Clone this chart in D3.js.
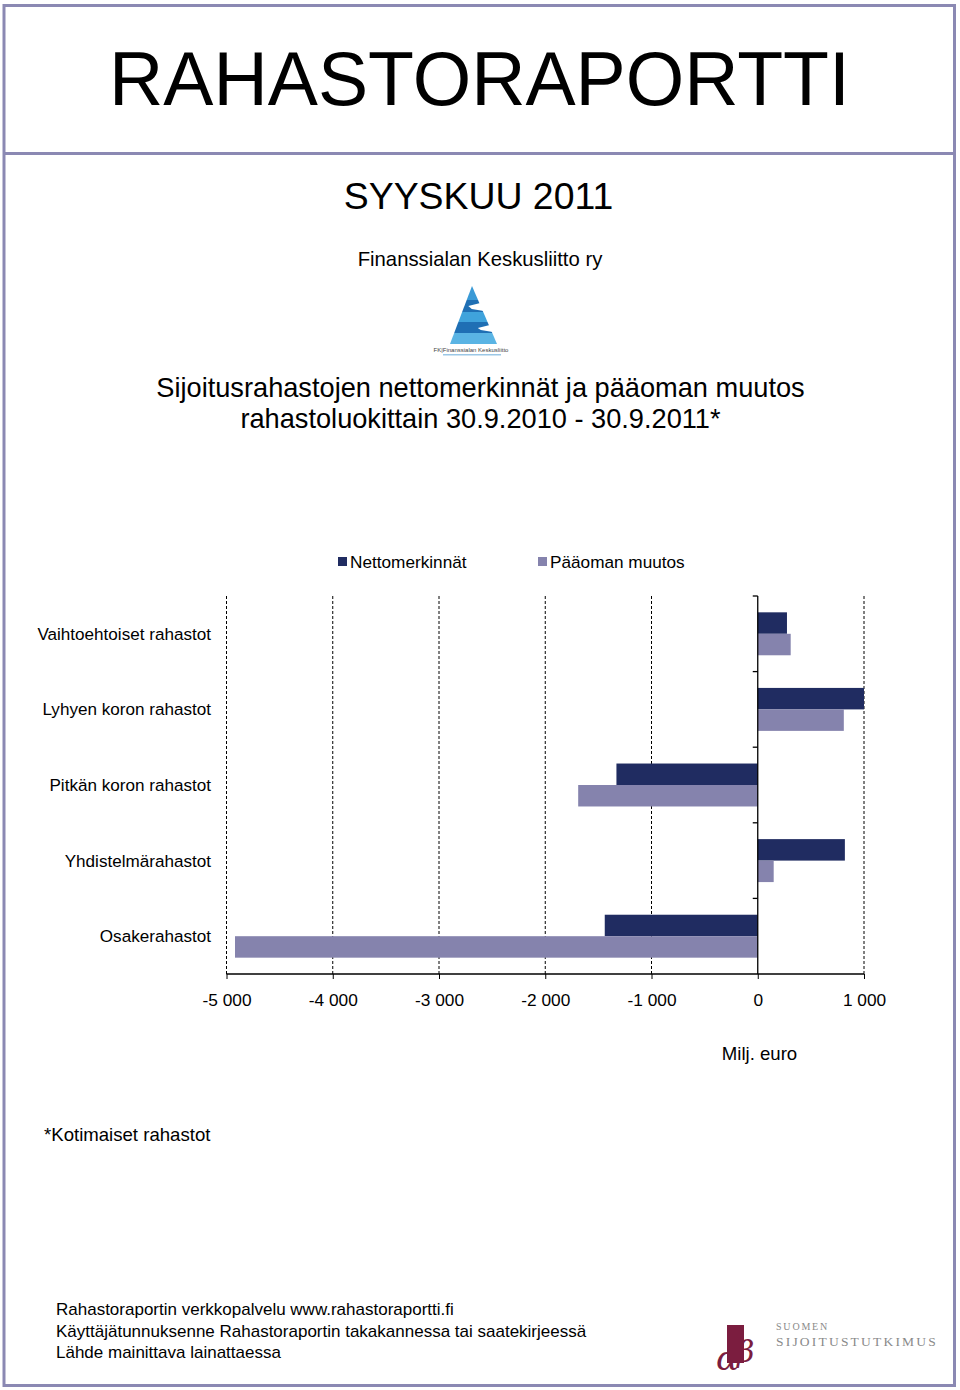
<!DOCTYPE html>
<html><head><meta charset="utf-8">
<script src="https://cdn.jsdelivr.net/npm/d3@7"></script>
<style>
html,body{margin:0;padding:0;background:#fff;}
svg{display:block;font-family:"Liberation Sans",Arial,sans-serif;}
</style></head>
<body>
<svg id="c" width="960" height="1390"></svg>
<script>
const categories = ["Vaihtoehtoiset rahastot","Lyhyen koron rahastot","Pitkän koron rahastot","Yhdistelmärahastot","Osakerahastot"];
const seriesNames = ["Nettomerkinnät","Pääoman muutos"];
const nettomerkinnat = [275, 1000, -1330, 820, -1440];
const paaomanMuutos = [310, 810, -1690, 150, -4920];
const xTicks = [-5000,-4000,-3000,-2000,-1000,0,1000];
const colors = ["#202c61","#8583ad"];
const borderColor = "#8b89b3";

const svg = d3.select("#c");

// frame
svg.append("rect").attr("x",4).attr("y",5.5).attr("width",950.5).attr("height",1380)
  .attr("fill","none").attr("stroke",borderColor).attr("stroke-width",3);
svg.append("line").attr("x1",4).attr("x2",954.5).attr("y1",153.5).attr("y2",153.5)
  .attr("stroke",borderColor).attr("stroke-width",3);

// header texts
svg.append("text").attr("x",479.5).attr("y",105).attr("text-anchor","middle")
  .attr("font-size",75.2).attr("fill","#000").text("RAHASTORAPORTTI");
svg.append("text").attr("x",478.5).attr("y",209).attr("text-anchor","middle")
  .attr("font-size",37.4).attr("fill","#000").text("SYYSKUU 2011");
svg.append("text").attr("x",480).attr("y",266).attr("text-anchor","middle")
  .attr("font-size",20.3).attr("fill","#000").text("Finanssialan Keskusliitto ry");

// FK logo (approximate)
const logo = svg.append("g");
const ax = 472, ay = 286, by = 344, bl = 450, br = 497;
function edgeL(y){ return ax + (bl-ax)*(y-ay)/(by-ay); }
function edgeR(y){ return ax + (br-ax)*(y-ay)/(by-ay); }
const stripes = [[ay,300,"#3a9ad6"],[300,312,"#1f6fb4"],[312,322,"#3fa3dc"],[322,333,"#1f6fb4"],[333,by,"#5ab4e4"]];
stripes.forEach(([y0,y1,c])=>{
  logo.append("polygon").attr("points",[[edgeL(y0),y0],[edgeR(y0),y0],[edgeR(y1),y1],[edgeL(y1),y1]].map(p=>p.join(",")).join(" "))
    .attr("fill",c);
});
[[303,311],[325,332]].forEach(([y0,y1])=>{
  logo.append("polygon").attr("points",[[edgeR(y0)+1,y0],[edgeR(y0)-11,y0+3],[edgeR(y1)-11,y1-2],[edgeR(y1)+1,y1]].map(p=>p.join(",")).join(" "))
    .attr("fill","#fff");
});
logo.append("text").attr("x",471).attr("y",352).attr("text-anchor","middle")
  .attr("font-size",6).attr("fill","#444").text("FK|Finanssialan Keskusliitto");
logo.append("rect").attr("x",443).attr("y",354).attr("width",58).attr("height",1.5).attr("fill","#9bc7e6");

// subtitle
svg.append("text").attr("x",480.5).attr("y",397).attr("text-anchor","middle")
  .attr("font-size",27.2).attr("fill","#000").text("Sijoitusrahastojen nettomerkinnät ja pääoman muutos");
svg.append("text").attr("x",480.5).attr("y",428).attr("text-anchor","middle")
  .attr("font-size",27.2).attr("fill","#000").text("rahastoluokittain 30.9.2010 - 30.9.2011*");

// legend
const legendX = [338, 538];
seriesNames.forEach((n,i)=>{
  svg.append("rect").attr("x",legendX[i]).attr("y",557).attr("width",9).attr("height",9).attr("fill",colors[i]);
  svg.append("text").attr("x",legendX[i]+12).attr("y",568).attr("font-size",17.2).attr("fill","#000").text(n);
});

// scales
const x = d3.scaleLinear().domain([-5000,1000]).range([226.5,864]);
const y = d3.scaleBand().domain(categories).range([596,974]).paddingInner(0).paddingOuter(0);
const y1 = d3.scaleBand().domain(seriesNames).range([0,y.bandwidth()]).paddingInner(0).paddingOuter(0.76);

const loc = d3.formatLocale({decimal:",",thousands:" ",grouping:[3],currency:["",""],minus:"-"});
const fmt = loc.format(",.0f");

// gridlines
svg.append("g").selectAll("line").data(xTicks.filter(d=>d!==0)).join("line")
  .attr("x1",d=>x(d)).attr("x2",d=>x(d)).attr("y1",596).attr("y2",974)
  .attr("stroke","#000").attr("stroke-width",1).attr("stroke-dasharray","3,2");

// bars
const data = categories.map((c,i)=>({c, vals:[nettomerkinnat[i], paaomanMuutos[i]]}));
const gBars = svg.append("g");
data.forEach(d=>{
  d.vals.forEach((v,j)=>{
    gBars.append("rect")
      .attr("x",x(Math.min(0,v))).attr("width",Math.abs(x(v)-x(0)))
      .attr("y",y(d.c)+y1(seriesNames[j])).attr("height",y1.bandwidth())
      .attr("fill",colors[j]);
  });
});

// x axis
const xAxis = d3.axisBottom(x).tickValues(xTicks).tickSize(5).tickPadding(15).tickFormat(fmt);
const gx = svg.append("g").attr("transform","translate(0,974)").call(xAxis);
gx.select(".domain").attr("stroke","#000").attr("stroke-width",1.3).attr("d",`M${x(-5000)},0H${x(1000)}`);
gx.selectAll(".tick line").attr("stroke","#000");
gx.selectAll(".tick text").attr("font-size",17.3).attr("fill","#000").attr("font-family","Liberation Sans, Arial, sans-serif");

// category axis at zero
const yAxis = d3.axisLeft(y).tickSize(0).tickFormat("");
const gy = svg.append("g").attr("transform",`translate(${x(0)},0)`).call(yAxis);
gy.select(".domain").attr("stroke","#000").attr("stroke-width",1.3).attr("d","M0,596V974");
gy.selectAll(".tick").remove();
const bounds = d3.range(categories.length).map(i=>y(categories[i]));
gy.selectAll("line.bt").data(bounds).join("line").attr("class","bt")
  .attr("x1",-5).attr("x2",0).attr("y1",d=>d).attr("y2",d=>d).attr("stroke","#000").attr("stroke-width",1.3);

// category labels
svg.append("g").selectAll("text").data(categories).join("text")
  .attr("x",211).attr("y",d=>y(d)+y.bandwidth()/2+6).attr("text-anchor","end")
  .attr("font-size",17.1).attr("fill","#000").text(d=>d);

svg.append("text").attr("x",759.5).attr("y",1060).attr("text-anchor","middle")
  .attr("font-size",18.6).attr("fill","#000").text("Milj. euro");

svg.append("text").attr("x",44).attr("y",1141).attr("font-size",18.6).attr("fill","#000").text("*Kotimaiset rahastot");

// footer
["Rahastoraportin verkkopalvelu www.rahastoraportti.fi","Käyttäjätunnuksenne Rahastoraportin takakannessa tai saatekirjeessä","Lähde mainittava lainattaessa"]
  .forEach((t,i)=>svg.append("text").attr("x",56).attr("y",1315+i*21.5).attr("font-size",17).attr("fill","#000").text(t));

// bottom logo (approximate)
const bl2 = svg.append("g");
bl2.append("rect").attr("x",727).attr("y",1325).attr("width",17).attr("height",38).attr("fill","#7b1d3f");
bl2.append("text").attr("x",716).attr("y",1370).attr("font-size",34).attr("font-style","italic")
  .attr("font-family","DejaVu Serif, serif").attr("fill","#7b1d3f").text("α");
bl2.append("text").attr("x",737).attr("y",1362).attr("font-size",30).attr("font-style","italic")
  .attr("font-family","DejaVu Serif, serif").attr("fill","#7b1d3f").text("β");
bl2.append("text").attr("x",776).attr("y",1330).attr("font-size",10).attr("letter-spacing",1.8)
  .attr("font-family","Liberation Serif, serif").attr("fill","#8a8a8a").text("SUOMEN");
bl2.append("text").attr("x",776).attr("y",1346).attr("font-size",13.5).attr("letter-spacing",2.2)
  .attr("font-family","Liberation Serif, serif").attr("fill","#8a8a8a").text("SIJOITUSTUTKIMUS");
</script>
</body></html>
